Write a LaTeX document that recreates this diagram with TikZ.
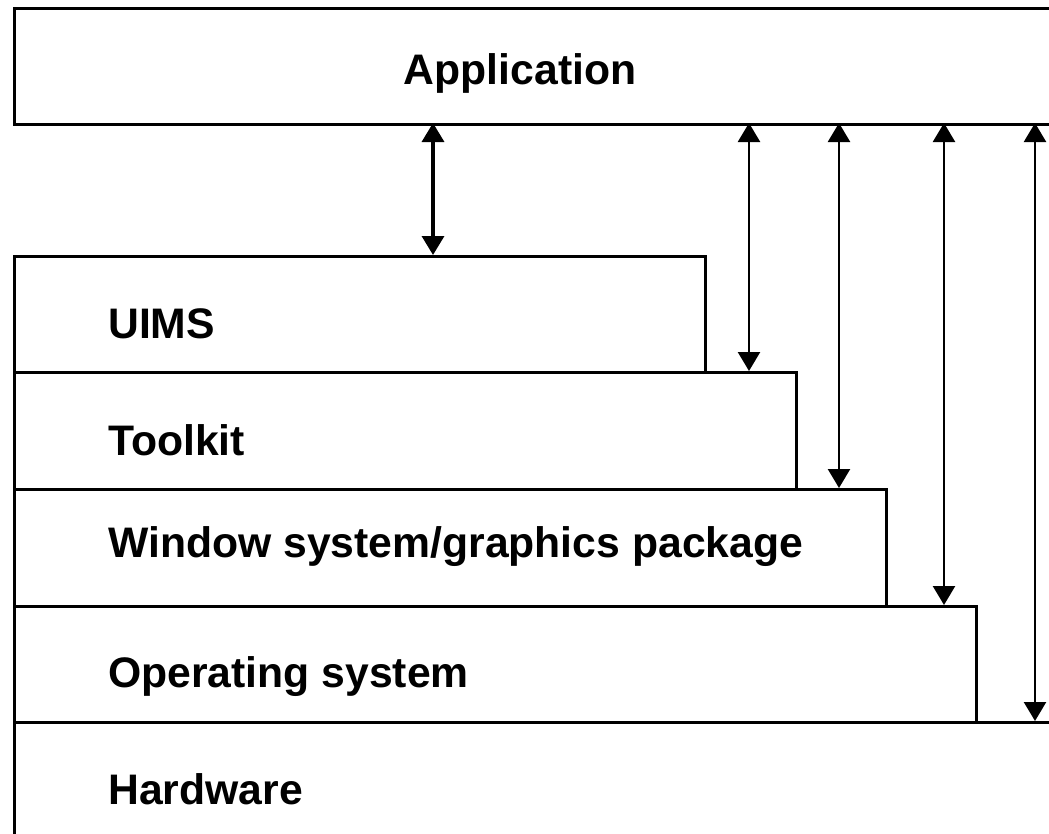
\documentclass[tikz,border=0pt]{standalone}
\usepackage{fontspec}
\setmainfont{Liberation Sans}
\usetikzlibrary{arrows.meta}
\begin{document}
\begin{tikzpicture}[x=1pt,y=-1pt,
  layer/.style={draw=black, line width=2.8pt, fill=white, inner sep=0pt, anchor=north west},
  lbl/.style={anchor=base west, inner sep=0pt, font=\fontsize{42.7}{50}\selectfont\bfseries},
  link/.style={line width=2.4pt, {Triangle[width=22pt,length=19pt]}-{Triangle[width=22pt,length=19pt]}}]
\useasboundingbox (0,0) rectangle (1049,833);
% layers
\node[layer, minimum width=1060pt, minimum height=116pt] (app) at (13,7) {};
\node[layer, minimum width=1060pt, minimum height=140pt] (hw) at (13,721) {};
\node[layer, minimum width=962pt, minimum height=116pt] (os) at (13,605) {};
\node[layer, minimum width=872pt, minimum height=117pt] (win) at (13,488) {};
\node[layer, minimum width=782pt, minimum height=117pt] (tk) at (13,371) {};
\node[layer, minimum width=691pt, minimum height=116pt] (uims) at (13,255) {};
% labels
\node[anchor=base, inner sep=0pt, font=\fontsize{42.7}{50}\selectfont\bfseries] (tapp) at (520,84) {Application};
\node[lbl] (tuims) at (108,338) {UIMS};
\node[lbl] (ttk) at (108,455) {Toolkit};
\node[lbl] (twin) at (108,557) {Window system/graphics package};
\node[lbl] (tos) at (108,687) {Operating system};
\node[lbl] (thw) at (108,804) {Hardware};
% arrow endpoints
\coordinate (a1) at (433,123); \coordinate (b1) at (433,255);
\coordinate (a2) at (749,123); \coordinate (b2) at (749,371);
\coordinate (a3) at (839,123); \coordinate (b3) at (839,488);
\coordinate (a4) at (944,123); \coordinate (b4) at (944,605);
\coordinate (a5) at (1035,123); \coordinate (b5) at (1035,721);
\draw[link, line width=3.4pt] (a1) -- (b1);
\draw[link] (a2) -- (b2);
\draw[link] (a3) -- (b3);
\draw[link] (a4) -- (b4);
\draw[link] (a5) -- (b5);
\end{tikzpicture}
\end{document}
